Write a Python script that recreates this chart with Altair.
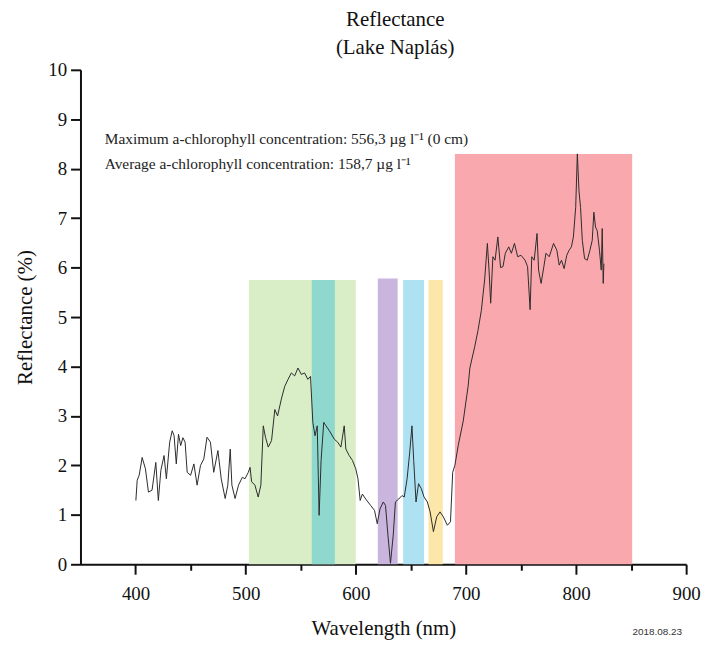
import altair as alt
import pandas as pd

wavelength = [400.3, 401.5, 403.3, 406, 409, 411.7, 415, 418.4, 420.7, 423, 425.9, 428, 431, 433.3, 435, 437, 439, 441, 443, 445,
              446.9, 450, 453, 455.9, 459, 462, 464.9, 468, 471, 474.8, 477.8, 481.4, 483.8, 486, 487.5, 490.4, 493.5, 497, 499.4,
              502.4, 504, 505.4, 508.4, 511.4, 513.8, 516, 518, 520.5, 523.5, 526.5, 529, 532.4, 535.5, 538.5, 541.5, 544.5, 547.5,
              550.5, 553.5, 556.5, 558.9, 561, 563, 565, 566.7, 568.5, 570.9, 573, 576, 580.5, 583.5, 586.5, 589.5, 591, 594, 597,
              600, 602, 604, 606, 609, 613.5, 617, 619.5, 622, 625, 627, 629.2, 631.5, 634, 636, 639, 642, 644, 646.6, 649, 651,
              652.6, 654.7, 657, 659.5, 662, 665, 667.5, 670.5, 673.5, 676.5, 679.5, 683.2, 686, 688, 690, 693, 697.6, 702, 703.6,
              708, 711, 714, 717, 719.5, 721, 722.5, 724.5, 726.5, 729, 731.5, 733.7, 735.8, 738.9, 741.3, 744.1, 747, 750, 753.7,
              756, 758.3, 759.8, 762, 764.6, 766, 768.3, 770.8, 772.7, 775.7, 779.6, 782.6, 784.7, 786.8, 789.2, 791.6, 793.7,
              795.8, 797.6, 799.7, 801.2, 802.7, 804.1, 805.7, 807.8, 810.2, 812.6, 814.7, 816.2, 817.7, 819.2, 821.3, 822.9,
              823.8, 824.7, 825.3]
reflectance = [1.29, 1.7, 1.8, 2.16, 1.93, 1.46, 1.5, 2.06, 1.29, 1.9, 2.2, 1.73, 2.47, 2.7, 2.6, 2.03, 2.63, 2.4, 2.56, 2.47,
               1.86, 1.8, 2.03, 1.6, 2.0, 2.13, 2.57, 2.47, 1.86, 2.3, 1.73, 1.33, 1.6, 2.33, 1.6, 1.33, 1.6, 1.76, 1.73,
               1.86, 1.96, 1.67, 1.6, 1.36, 1.6, 2.8, 2.57, 2.37, 2.5, 3.13, 3.0, 3.34, 3.6, 3.74, 3.87, 3.81, 3.97,
               3.84, 3.87, 3.74, 3.8, 2.87, 2.6, 2.8, 0.99, 2.1, 2.87, 2.8, 2.7, 2.53, 2.47, 2.37, 2.8, 2.33, 2.2, 2.1,
               1.93, 1.73, 1.29, 1.42, 1.32, 1.19, 1.09, 0.82, 1.12, 1.26, 1.19, 0.59, 0.02, 0.59, 1.26, 1.32, 1.39, 1.36, 1.73, 2.27, 2.8,
               2.1, 1.26, 1.63, 1.53, 1.36, 1.26, 1.06, 0.66, 0.96, 1.06, 0.96, 0.79, 0.86, 1.86, 2.0, 2.4, 2.9, 3.6, 3.97,
               4.4, 4.73, 5.13, 5.75, 6.49, 5.95, 5.28, 6.22, 6.15, 6.62, 6.0, 6.02, 6.29, 6.42, 6.29, 6.49, 6.22, 6.25, 6.15,
               6.02, 5.15, 6.22, 6.15, 6.69, 5.95, 5.68, 6.02, 6.29, 6.22, 6.49, 6.35, 6.05, 6.15, 5.98, 6.25, 6.35,
               6.42, 6.62, 7.22, 8.3, 7.55, 7.22, 6.55, 6.18, 6.15, 6.35, 6.55, 7.12, 6.82, 6.75, 6.35, 5.95,
               6.79, 5.68, 6.08]

band_start = [503, 560, 620, 643, 666, 690]
band_end = [600, 581, 638, 662, 679, 851]
band_top = [5.75, 5.75, 5.78, 5.75, 5.75, 8.3]
band_color = ["#d9eec6", "#8fd8cd", "#c9b5de", "#aee2f3", "#fde7a8", "#f9a9ad"]

ann_x = [372, 372]
ann_y = [8.6, 8.1]
ann_text = ["Maximum a-chlorophyll concentration: 556,3 µg l⁻¹ (0 cm)",
            "Average a-chlorophyll concentration: 158,7 µg l⁻¹"]

x_ticks = [400, 450, 500, 550, 600, 650, 700, 750, 800, 850, 900]
y_ticks = [i * 0.5 for i in range(21)]
date_text = ["2018.08.23"]

SERIF = "Liberation Serif"

spec_df = pd.DataFrame({"wl": wavelength, "r": reflectance})
band_df = pd.DataFrame({"start": band_start, "end": band_end, "top": band_top, "color": band_color})
ann_df = pd.DataFrame({"x": ann_x, "y": ann_y, "t": ann_text})
date_df = pd.DataFrame({"t": date_text})

x_scale = alt.Scale(domain=[350, 900], nice=False, zero=False)
y_scale = alt.Scale(domain=[0, 10], nice=False)

x_axis = alt.Axis(
    title="Wavelength (nm)",
    values=x_ticks,
    labelExpr="datum.value % 100 == 0 ? datum.label : ''",
    tickSize={"condition": {"test": "datum.value % 100 != 0", "value": 6}, "value": 10},
    labelPadding=10,
    labelFlush=False,
    titlePadding=15,
)
y_axis = alt.Axis(
    title="Reflectance (%)",
    values=y_ticks,
    labelExpr="datum.value % 1 == 0 ? datum.label : ''",
    tickSize={"condition": {"test": "datum.value % 1 != 0", "value": 5}, "value": 10},
    labelPadding=4,
    labelFlush=False,
    titlePadding=12,
)

bands = alt.Chart(band_df).mark_rect().encode(
    x=alt.X("start:Q", scale=x_scale, axis=x_axis),
    x2="end:Q",
    y=alt.Y("top:Q", scale=y_scale, axis=y_axis),
    y2=alt.datum(0),
    color=alt.Color("color:N", scale=None),
)

line = alt.Chart(spec_df).mark_line(color="#2b2b2b", strokeWidth=1).encode(
    x=alt.X("wl:Q", scale=x_scale),
    y=alt.Y("r:Q", scale=y_scale),
)

ann = alt.Chart(ann_df).mark_text(align="left", baseline="middle", font=SERIF, fontSize=15.5, color="#222222").encode(
    x=alt.X("x:Q", scale=x_scale),
    y=alt.Y("y:Q", scale=y_scale),
    text="t:N",
)

date = alt.Chart(date_df).mark_text(align="center", baseline="middle", font="Liberation Sans", fontSize=10, color="#333333").encode(
    x=alt.value(581),
    y=alt.value(566),
    text="t:N",
)

chart = alt.layer(bands, line, ann, date).properties(
    width=610,
    height=498,
    autosize=alt.AutoSizeParams(type="none"),
    padding={"left": 73, "top": 60, "right": 20, "bottom": 75},
    title=alt.Title(["Reflectance", "(Lake Naplás)"], font=SERIF, fontSize=21, fontWeight="normal",
                    anchor="middle", dx=12, offset=3, lineHeight=28, color="#111111"),
).configure_axis(
    domainColor="#111111", domainWidth=2, tickColor="#111111", tickWidth=2, grid=False,
    labelFont=SERIF, labelFontSize=19, labelColor="#111111",
    titleFont=SERIF, titleFontSize=21, titleFontWeight="normal", titleColor="#111111",
).configure_view(stroke=None)

chart.save("out.html", embed_options={"renderer": "svg", "actions": False})
